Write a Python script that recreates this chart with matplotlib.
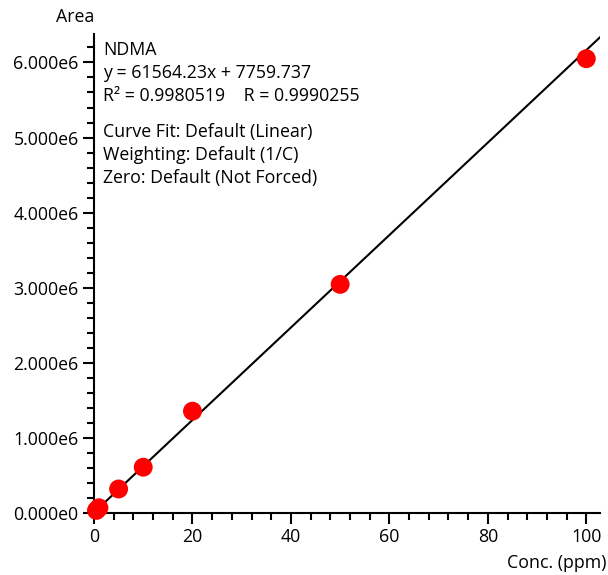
import matplotlib
matplotlib.use("Agg")
import matplotlib.pyplot as plt
from matplotlib.ticker import MultipleLocator, FuncFormatter
import numpy as np

# calibration standards
conc = [0.5, 1.0, 5.0, 10.0, 20.0, 50.0, 100.0]
area = [35000, 70000, 320000, 610000, 1356000, 3045000, 6050000]

slope = 61564.23
intercept = 7759.737
info_top = ["NDMA", "y = 61564.23x + 7759.737", "R\u00b2 = 0.9980519    R = 0.9990255"]
info_bottom = ["Curve Fit: Default (Linear)", "Weighting: Default (1/C)", "Zero: Default (Not Forced)"]

plt.rcParams["font.family"] = ["Open Sans", "DejaVu Sans"]
FS = 12.8

fig = plt.figure(figsize=(6.08, 5.75), dpi=100)
ax = fig.add_axes([0.1546, 0.1078, 0.8324, 0.8332])

xmax = 102.8
xs = np.array([0, xmax])
ax.plot(xs, slope * xs + intercept, color="black", lw=1.5, zorder=2)
ax.scatter(conc, area, s=185, color="#ff0000", zorder=3, edgecolors="none", clip_on=False)

ax.set_xlim(0, xmax)
ax.set_ylim(0, 6.38e6)

for s in ["top", "right"]:
    ax.spines[s].set_visible(False)
for s in ["left", "bottom"]:
    ax.spines[s].set_linewidth(1.5)

ax.xaxis.set_major_locator(MultipleLocator(20))
ax.xaxis.set_minor_locator(MultipleLocator(4))
ax.yaxis.set_major_locator(MultipleLocator(1e6))
ax.yaxis.set_minor_locator(MultipleLocator(2e5))
ax.yaxis.set_major_formatter(FuncFormatter(lambda v, p: f"{v/1e6:.3f}e{0 if v == 0 else 6}"))
ax.tick_params(which="major", length=8, width=1.5, labelsize=FS, direction="out", pad=3)
ax.tick_params(which="minor", length=5, width=1.5, direction="out")

fig.text(0.123, 0.97, "Area", ha="center", va="center", fontsize=FS)
fig.text(0.997, 0.02, "Conc. (ppm)", ha="right", va="center", fontsize=FS)

y = 0.9135
for line in info_top:
    fig.text(0.169, y, line, ha="left", va="center", fontsize=FS)
    y -= 0.04
y -= 0.023
for line in info_bottom:
    fig.text(0.169, y, line, ha="left", va="center", fontsize=FS)
    y -= 0.04

fig.savefig("out.png", dpi=100)
